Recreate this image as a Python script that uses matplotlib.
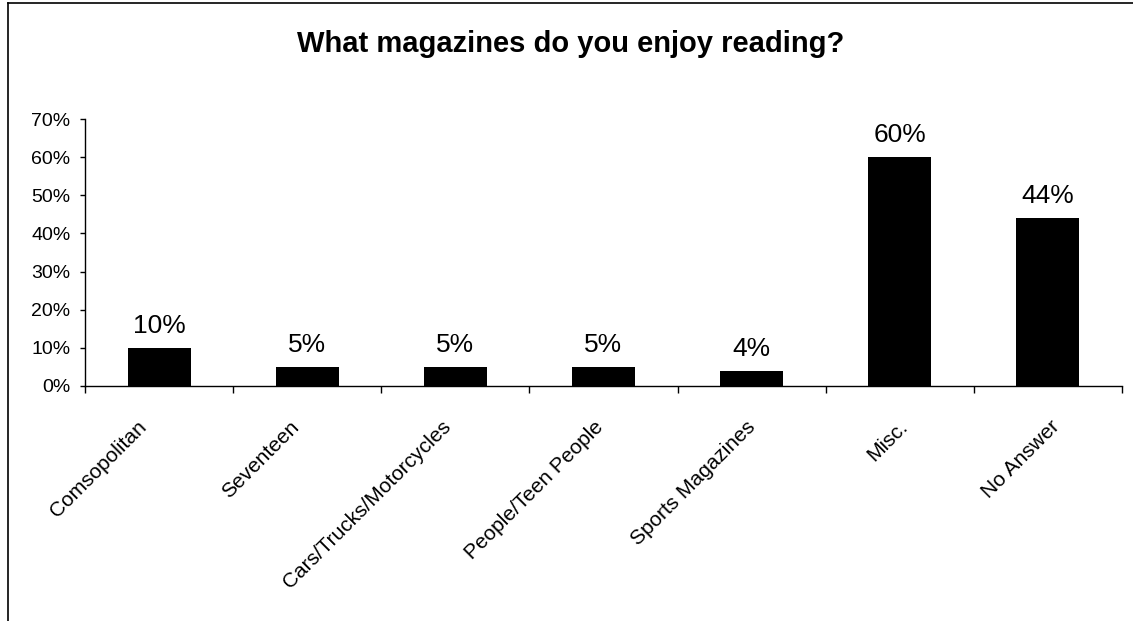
import matplotlib
matplotlib.use("Agg")
import matplotlib.pyplot as plt
from matplotlib.lines import Line2D
from matplotlib.transforms import ScaledTranslation
import numpy as np

categories = ["Comsopolitan", "Seventeen", "Cars/Trucks/Motorcycles",
              "People/Teen People", "Sports Magazines", "Misc.", "No Answer"]
values = [10, 5, 5, 5, 4, 60, 44]
yticks = [0, 10, 20, 30, 40, 50, 60, 70]

plt.rcParams['font.family'] = ['Liberation Sans', 'DejaVu Sans']

fig = plt.figure(figsize=(11.33, 6.21), dpi=100)
ax = fig.add_axes([85 / 1133, 1 - 386 / 621, (1122 - 85) / 1133, (386 - 119) / 621])

x = np.arange(len(categories))
ax.bar(x, values, width=0.425, color='black')
for xi, v in zip(x, values):
    ax.text(xi, v + 3.9, f"{v}%", ha='center', va='baseline', fontsize=19)

ax.set_xlim(-0.5, len(categories) - 0.5)
ax.set_ylim(0, 70)
ax.set_yticks(yticks)
ax.set_yticklabels([f"{t}%" for t in yticks], fontsize=14)
ax.set_xticks(np.arange(len(categories) + 1) - 0.5)
ax.set_xticklabels([])

# category labels, rotated; excel spaces them a little wider than the bars
for xi, name in zip(x, categories):
    offset = ScaledTranslation((-22 + 4 * xi) / 100, -31 / 100, fig.dpi_scale_trans)
    ax.text(xi, 0, name, transform=ax.get_xaxis_transform() + offset,
            rotation=45, ha='right', va='top', rotation_mode='anchor',
            fontsize=15)

ax.tick_params(axis='x', length=5, width=1, direction='out')
ax.tick_params(axis='y', length=3.6, width=1, direction='out', pad=7)
for side in ['top', 'right']:
    ax.spines[side].set_visible(False)
for side in ['left', 'bottom']:
    ax.spines[side].set_linewidth(1)

fig.text(571 / 1133, 1 - 52 / 621, "What magazines do you enjoy reading?",
         ha='center', va='baseline', fontsize=21, fontweight='bold')

# outer chart border (partially cropped in the original)
fig.add_artist(Line2D([8 / 1133, 8 / 1133], [0, 1 - 3 / 621], color='black', lw=1.2))
fig.add_artist(Line2D([8 / 1133, 1], [1 - 3 / 621, 1 - 3 / 621], color='black', lw=1.2))

fig.savefig("out.png", dpi=100)
